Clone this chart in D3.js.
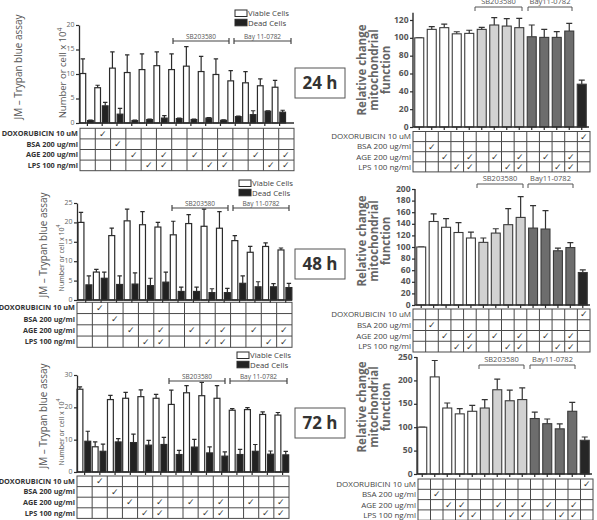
<!DOCTYPE html>
<html>
<head>
<meta charset="utf-8">
<script src="https://cdn.jsdelivr.net/npm/d3@7"></script>
<style>
  body { margin: 0; background: #fff; }
  svg { display: block; }
  text { font-family: "Open Sans", "Noto Sans", sans-serif; }
</style>
</head>
<body>
<div id="chart"></div>
<script>
// Treatments (table columns) and row labels
var treatments = d3.range(1, 15);
var rowLabels = ['DOXORUBICIN 10 uM', 'BSA 200 ug/ml', 'AGE 200 ug/ml', 'LPS 100 ng/ml'];
var times = ['24 h', '48 h', '72 h'];
var seriesNames = ['Viable Cells', 'Dead Cells'];
var inhibitorsLeft = ['SB203580', 'Bay 11-0782'];
var inhibitorsRight = ['SB203580', 'Bay11-0782'];

// Trypan blue counts (number of cells x 10^4)
var viable24 = [10.1, 7.2, 11.2, 10.3, 10.9, 11.7, 10.9, 11.6, 10.5, 9.9, 8.6, 8.2, 7.6, 7.3];
var viable24Err = [3.0, 0.5, 3.3, 3.6, 3.2, 2.8, 3.2, 4.0, 3.1, 3.2, 2.1, 2.3, 1.4, 1.4];
var dead24 = [0.5, 3.5, 1.8, 0.5, 0.7, 1.0, 0.9, 0.7, 1.0, 0.55, 1.3, 1.7, 2.4, 2.2];
var dead24Err = [0.1, 0.7, 1.2, 0.1, 0.1, 0.5, 0.1, 0.1, 0.1, 0.1, 0.1, 0.8, 0.1, 0.4];

var viable48 = [20.0, 7.2, 16.6, 20.4, 19.4, 18.8, 16.8, 19.7, 19.0, 18.5, 15.3, 12.3, 13.8, 12.9];
var viable48Err = [2.6, 0.7, 1.9, 3.0, 3.4, 1.2, 3.5, 2.3, 4.4, 4.3, 1.3, 1.5, 0.9, 0.5];
var dead48 = [3.9, 5.6, 4.0, 4.1, 3.7, 4.6, 2.2, 2.2, 1.9, 1.9, 4.3, 3.4, 3.4, 3.2];
var dead48Err = [2.3, 1.6, 2.2, 2.9, 1.9, 2.6, 1.1, 1.1, 1.0, 1.1, 1.9, 1.3, 0.8, 1.1];

var viable72 = [25.6, 7.8, 22.4, 22.8, 23.3, 22.8, 20.9, 24.5, 23.6, 22.8, 19.1, 19.3, 17.8, 17.6];
var viable72Err = [0.7, 1.5, 1.3, 1.8, 2.1, 1.2, 4.4, 2.2, 4.1, 3.9, 0.5, 0.6, 0.8, 0.8];
var dead72 = [9.5, 6.4, 9.3, 9.1, 8.3, 8.5, 5.4, 7.7, 5.9, 4.9, 5.4, 6.4, 5.5, 5.3];
var dead72Err = [3.1, 2.2, 1.0, 2.6, 1.5, 2.2, 1.3, 2.4, 1.9, 1.3, 1.6, 2.1, 1.0, 1.1];

// Relative change in mitochondrial function (% of control)
var mito24 = [100, 109.5, 111.4, 104.5, 105, 109.5, 114.4, 113.2, 111.4, 101.2, 100.5, 100.5, 107.6, 48];
var mito24Err = [0, 3, 4, 2.3, 3.5, 2.2, 8.2, 8.3, 10.5, 13.2, 9, 6.4, 8.6, 4.5];
var mito48 = [100, 144, 134, 125, 115.5, 108, 124, 138.5, 151, 132.6, 131, 93.5, 99, 56];
var mito48Err = [0, 13, 15, 17, 10, 7.5, 7.5, 27.7, 36, 38.6, 31.7, 4.6, 8.7, 4.6];
var mito72 = [100, 207.5, 141, 128.5, 134, 141, 180, 156.5, 159, 118.5, 107.5, 96.5, 134, 72];
var mito72Err = [0, 35, 10.7, 11.4, 12.8, 17.8, 22.8, 22.8, 25, 13.6, 10, 10.6, 19.2, 7.1];

// Table check marks (column numbers per row)
var leftChecks = [[2], [3], [4, 6, 8, 10, 12, 14], [5, 6, 9, 10, 13, 14]];
var rightChecks = [[14], [2], [3, 5, 7, 9, 11, 13], [4, 5, 8, 9, 12, 13]];
var rightChecks72 = [[14], [2], [3, 4, 7, 9, 11, 13], [4, 5, 8, 9, 12, 13]];

// Bar shading group of each treatment in the right panels
var mitoGroup = ['plain', 'plain', 'plain', 'plain', 'plain', 'sb', 'sb', 'sb', 'sb',
                 'bay', 'bay', 'bay', 'bay', 'doxo'];

// Tick labels
var ticksL24 = [0, 5, 10, 15, 20];
var ticksL48 = [0, 5, 10, 15, 20, 25];
var ticksL72 = [0, 10, 20, 30];
var ticksR24 = [0, 20, 40, 60, 80, 100, 120];
var ticksR48 = [0, 20, 40, 60, 80, 100, 120, 140, 160, 180, 200];
var ticksR72 = [0, 50, 100, 150, 200, 250];

var svg = d3.select('#chart')
            .append('svg')
            .attr('width', 597)
            .attr('height', 520);

var ink = '#2b2b2b';

// Draw the treatment table below a chart
function drawTable(t, checks, bold) {
  var g = svg.append('g');
  var col = d3.scaleBand().domain(treatments).range([t.x0, t.x1]);
  var row = d3.scaleBand().domain(rowLabels).range([t.y0, t.y0 + t.rowH * 4]);
  var grid = g.append('g')
              .attr('stroke', '#4a4a4a')
              .attr('stroke-width', 1)
              .attr('fill', 'none');
  grid.append('rect')
      .attr('x', t.x0).attr('y', t.y0)
      .attr('width', t.x1 - t.x0).attr('height', t.rowH * 4);
  grid.selectAll('.h')
      .data(rowLabels.slice(1))
      .enter()
      .append('line')
      .attr('x1', t.x0).attr('x2', t.x1)
      .attr('y1', function (d) { return row(d); })
      .attr('y2', function (d) { return row(d); });
  grid.selectAll('.v')
      .data(treatments.slice(1))
      .enter()
      .append('line')
      .attr('y1', t.y0).attr('y2', t.y0 + t.rowH * 4)
      .attr('x1', function (d) { return col(d); })
      .attr('x2', function (d) { return col(d); });

  g.selectAll('.rl')
   .data(rowLabels)
   .enter()
   .append('text')
   .attr('x', t.x0 - 2)
   .attr('y', function (d) { return row(d) + row.bandwidth() / 2; })
   .attr('dy', '0.35em')
   .attr('text-anchor', 'end')
   .attr('font-size', bold ? 7.3 : 8)
   .attr('font-weight', bold ? 'bold' : 'normal')
   .attr('fill', bold ? '#333' : '#444')
   .text(function (d) { return d; });

  var cells = [];
  checks.forEach(function (cols, r) {
    cols.forEach(function (c) { cells.push({ r: rowLabels[r], c: c }); });
  });
  g.selectAll('.ck')
   .data(cells)
   .enter()
   .append('text')
   .attr('x', function (d) { return col(d.c) + col.bandwidth() / 2; })
   .attr('y', function (d) { return row(d.r) + row.bandwidth() / 2; })
   .attr('dy', '0.35em')
   .attr('text-anchor', 'middle')
   .attr('font-family', 'DejaVu Sans')
   .attr('font-size', 8.5)
   .attr('fill', '#333')
   .text('\u2713');
}

function timeBox(label, y) {
  svg.append('rect')
     .attr('x', 295).attr('y', y)
     .attr('width', 50).attr('height', 30)
     .attr('fill', '#fff')
     .attr('stroke', '#555')
     .attr('stroke-width', 1);
  svg.append('text')
     .attr('x', 320).attr('y', y + 15)
     .attr('dy', '0.36em')
     .attr('text-anchor', 'middle')
     .attr('font-size', 17)
     .attr('font-weight', 'bold')
     .attr('fill', '#333')
     .text(label);
}

function styleAxis(a, size, weight, color) {
  a.selectAll('.tick line').attr('stroke', ink).attr('stroke-width', 1.2);
  a.selectAll('.tick text')
   .attr('font-size', size)
   .attr('font-weight', weight)
   .attr('fill', color)
   .attr('font-family', '"Open Sans", sans-serif');
}

// Trypan blue panel (viable + dead cells)
function leftPanel(p) {
  var g = svg.append('g');
  var y = d3.scaleLinear().domain([0, p.max]).range([p.y0, p.yTop]);
  var x = d3.scaleBand().domain(treatments).range(p.bars);
  var sub = d3.scaleBand()
              .domain(seriesNames)
              .range([0, x.bandwidth() * 0.9])
              .paddingInner(0.25);
  var series = [
    { name: seriesNames[0], v: p.viable, e: p.viableErr, fill: '#fff' },
    { name: seriesNames[1], v: p.dead, e: p.deadErr, fill: '#222' }
  ];

  series.forEach(function (s) {
    var sg = g.append('g');
    sg.selectAll('path')
      .data(treatments)
      .enter()
      .append('path')
      .attr('d', function (d, i) {
        var cx = x(d) + sub(s.name) + sub.bandwidth() / 2;
        var top = y(s.v[i] + s.e[i]);
        return 'M' + cx + ',' + y(s.v[i]) + 'V' + top +
               'M' + (cx - 2.2) + ',' + top + 'H' + (cx + 2.2);
      })
      .attr('stroke', ink)
      .attr('stroke-width', 1.2)
      .attr('fill', 'none');
    sg.selectAll('rect')
      .data(treatments)
      .enter()
      .append('rect')
      .attr('x', function (d) { return x(d) + sub(s.name); })
      .attr('width', sub.bandwidth())
      .attr('y', function (d, i) { return y(s.v[i]); })
      .attr('height', function (d, i) { return y(0) - y(s.v[i]); })
      .attr('fill', s.fill)
      .attr('stroke', ink)
      .attr('stroke-width', 1.2);
  });

  // y axis
  g.append('g')
   .attr('transform', 'translate(' + p.axisX + ',0)')
   .call(d3.axisLeft(y).tickValues(p.ticks).tickSize(3).tickSizeOuter(0).tickPadding(1.5))
   .call(function (a) {
     a.select('.domain').attr('stroke', ink).attr('stroke-width', 1.3);
     styleAxis(a, 7, 'normal', '#666');
     a.selectAll('.tick text').attr('dy', '0.2em');
   });

  // x baseline with ticks
  g.append('line')
   .attr('x1', p.axisX).attr('x2', p.table.x1)
   .attr('y1', p.y0).attr('y2', p.y0)
   .attr('stroke', ink).attr('stroke-width', 1.3);
  g.selectAll('.xt')
   .data(treatments)
   .enter()
   .append('line')
   .attr('x1', function (d) { return x(d) + x.bandwidth() / 2; })
   .attr('x2', function (d) { return x(d) + x.bandwidth() / 2; })
   .attr('y1', p.y0).attr('y2', p.y0 + 3)
   .attr('stroke', ink).attr('stroke-width', 1.2);

  // legend
  seriesNames.forEach(function (name, i) {
    var ly = p.legend.y + i * 9.3;
    g.append('rect')
     .attr('x', p.legend.x).attr('y', ly)
     .attr('width', 12).attr('height', 6.5)
     .attr('fill', series[i].fill)
     .attr('stroke', ink).attr('stroke-width', 1);
    g.append('text')
     .attr('x', p.legend.x + 13).attr('y', ly + 6.3)
     .attr('font-size', 7.8)
     .attr('fill', '#444')
     .text(name);
  });

  // inhibitor brackets
  [p.sb, p.bay].forEach(function (r, i) {
    g.append('path')
     .attr('d', 'M' + r[0] + ',' + p.bracketY + 'H' + r[1] +
                'M' + r[0] + ',' + (p.bracketY - 3) + 'V' + (p.bracketY + 3) +
                'M' + r[1] + ',' + (p.bracketY - 3) + 'V' + (p.bracketY + 3))
     .attr('stroke', '#444').attr('stroke-width', 1.2).attr('fill', 'none');
    g.append('text')
     .attr('x', (r[0] + r[1]) / 2).attr('y', p.bracketY - 2.5)
     .attr('text-anchor', 'middle')
     .attr('font-size', 6.5)
     .attr('fill', '#555')
     .text(inhibitorsLeft[i]);
  });

  // y titles
  g.append('text')
   .attr('transform', 'translate(' + p.jm.x + ',' + p.jm.y + ') rotate(-90)')
   .attr('text-anchor', 'middle')
   .attr('font-size', 11.5)
   .attr('fill', '#555')
   .attr('textLength', 105)
   .attr('lengthAdjust', 'spacingAndGlyphs')
   .text('JM \u2013 Trypan blue assay');
  var nt = g.append('text')
            .attr('transform', 'translate(' + p.num.x + ',' + p.num.y + ') rotate(-90)')
            .attr('text-anchor', 'middle')
            .attr('font-size', p.num.size)
            .attr('fill', '#555');
  nt.append('tspan').text('Number or cell x 10');
  nt.append('tspan')
    .attr('dy', -p.num.size * 0.45)
    .attr('font-size', p.num.size * 0.7)
    .text('4');

  drawTable(p.table, leftChecks, true);
  timeBox(p.time, p.timeY);
}

var shade = d3.scaleOrdinal()
              .domain(['plain', 'sb', 'bay', 'doxo'])
              .range(['#ffffff', '#d2d2d2', '#6d6d6d', '#262626']);

// Mitochondrial function panel
function rightPanel(p) {
  var g = svg.append('g');
  var y = d3.scaleLinear().domain([0, p.ref]).range([p.y0, p.yRef]);
  var x = d3.scaleBand()
            .domain(treatments)
            .range(p.bars)
            .paddingInner(0.28)
            .paddingOuter(0.14);

  g.selectAll('.err')
   .data(treatments)
   .enter()
   .append('path')
   .attr('d', function (d, i) {
     var cx = x(d) + x.bandwidth() / 2;
     var top = y(p.v[i] + p.e[i]);
     return 'M' + cx + ',' + y(p.v[i]) + 'V' + top +
            'M' + (cx - 3) + ',' + top + 'H' + (cx + 3);
   })
   .attr('stroke', '#333')
   .attr('stroke-width', 1.2)
   .attr('fill', 'none');
  g.selectAll('.bar')
   .data(treatments)
   .enter()
   .append('rect')
   .attr('x', function (d) { return x(d); })
   .attr('width', x.bandwidth())
   .attr('y', function (d, i) { return y(p.v[i]); })
   .attr('height', function (d, i) { return y(0) - y(p.v[i]); })
   .attr('fill', function (d, i) { return shade(mitoGroup[i]); })
   .attr('stroke', '#3a3a3a')
   .attr('stroke-width', 1.1);

  g.append('g')
   .attr('transform', 'translate(' + p.axisX + ',0)')
   .call(d3.axisLeft(y).tickValues(p.ticks).tickSize(3).tickSizeOuter(0).tickPadding(1.5))
   .call(function (a) {
     a.select('.domain')
      .attr('d', 'M0,' + p.y0 + 'V' + y(p.max))
      .attr('stroke', ink).attr('stroke-width', 1.4);
     styleAxis(a, 8.5, 'bold', '#555');
     a.selectAll('.tick text').attr('dy', '0.25em');
   });

  g.append('line')
   .attr('x1', p.axisX).attr('x2', p.bars[1] + 1)
   .attr('y1', p.y0).attr('y2', p.y0)
   .attr('stroke', ink).attr('stroke-width', 1.4);
  g.selectAll('.xt')
   .data(treatments)
   .enter()
   .append('line')
   .attr('x1', function (d) { return x(d) + x.bandwidth() / 2; })
   .attr('x2', function (d) { return x(d) + x.bandwidth() / 2; })
   .attr('y1', p.y0).attr('y2', p.y0 + 3)
   .attr('stroke', ink).attr('stroke-width', 1.2);

  [p.sb, p.bay].forEach(function (r, i) {
    g.append('path')
     .attr('d', 'M' + r[0] + ',' + (p.bracketY + 4) + 'V' + p.bracketY +
                'H' + r[1] + 'V' + (p.bracketY + 4))
     .attr('stroke', '#555').attr('stroke-width', 1).attr('fill', 'none');
    g.append('text')
     .attr('x', (r[0] + r[1]) / 2).attr('y', p.bracketY - 3)
     .attr('text-anchor', 'middle')
     .attr('font-size', 7.5)
     .attr('fill', '#555')
     .text(inhibitorsRight[i]);
  });

  var title = ['Relative change', 'mitochondrial', 'function'];
  g.selectAll('.yt')
   .data(title)
   .enter()
   .append('text')
   .attr('transform', function (d, i) {
     return 'translate(' + (366 + i * 12) + ',' + p.titleY + ') rotate(-90)';
   })
   .attr('text-anchor', 'middle')
   .attr('font-size', 11.5)
   .attr('font-weight', 'bold')
   .attr('fill', '#666')
   .text(function (d) { return d; });

  drawTable(p.table, p.checks, false);
}

leftPanel({
  viable: viable24, viableErr: viable24Err, dead: dead24, deadErr: dead24Err,
  axisX: 79, y0: 123, yTop: 25, max: 20, ticks: ticksL24, bars: [80, 287],
  table: { x0: 80, x1: 294, y0: 128.3, rowH: 10.6 },
  legend: { x: 235, y: 10 }, sb: [173, 229], bay: [234, 291], bracketY: 41,
  jm: { x: 22, y: 67 }, num: { x: 66, y: 73, size: 9.5 },
  time: times[0], timeY: 68
});
leftPanel({
  viable: viable48, viableErr: viable48Err, dead: dead48, deadErr: dead48Err,
  axisX: 77, y0: 300, yTop: 203, max: 25, ticks: ticksL48, bars: [78, 293.4],
  table: { x0: 77, x1: 292, y0: 302.3, rowH: 11.25 },
  legend: { x: 239, y: 180 }, sb: [172, 228], bay: [233, 289], bracketY: 208,
  jm: { x: 47, y: 245 }, num: { x: 63.5, y: 258, size: 7 },
  time: times[1], timeY: 249
});
leftPanel({
  viable: viable72, viableErr: viable72Err, dead: dead72, deadErr: dead72Err,
  axisX: 77, y0: 472, yTop: 375, max: 30, ticks: ticksL72, bars: [77, 290.2],
  table: { x0: 77, x1: 289, y0: 476, rowH: 10.6 },
  legend: { x: 237, y: 352 }, sb: [169, 225], bay: [230, 287], bracketY: 381,
  jm: { x: 47, y: 416 }, num: { x: 63.5, y: 432, size: 7 },
  time: times[2], timeY: 408
});

rightPanel({
  v: mito24, e: mito24Err, axisX: 413, y0: 127, ref: 120, yRef: 20, max: 128,
  ticks: ticksR24, bars: [413, 588],
  table: { x0: 413, x1: 590, y0: 131.5, rowH: 10.1 }, checks: rightChecks,
  sb: [475, 522], bay: [528, 572], bracketY: 7, titleY: 70
});
rightPanel({
  v: mito48, e: mito48Err, axisX: 415, y0: 305, ref: 200, yRef: 189, max: 200,
  ticks: ticksR48, bars: [415, 589],
  table: { x0: 413, x1: 590, y0: 309, rowH: 10.75 }, checks: rightChecks,
  sb: [477, 523], bay: [528, 573], bracketY: 184, titleY: 241
});
rightPanel({
  v: mito72, e: mito72Err, axisX: 417, y0: 474, ref: 250, yRef: 357, max: 250,
  ticks: ticksR72, bars: [416, 591],
  table: { x0: 418, x1: 593, y0: 479, rowH: 10.3 }, checks: rightChecks72,
  sb: [479, 524], bay: [530, 575], bracketY: 365, titleY: 407
});
</script>
</body>
</html>
